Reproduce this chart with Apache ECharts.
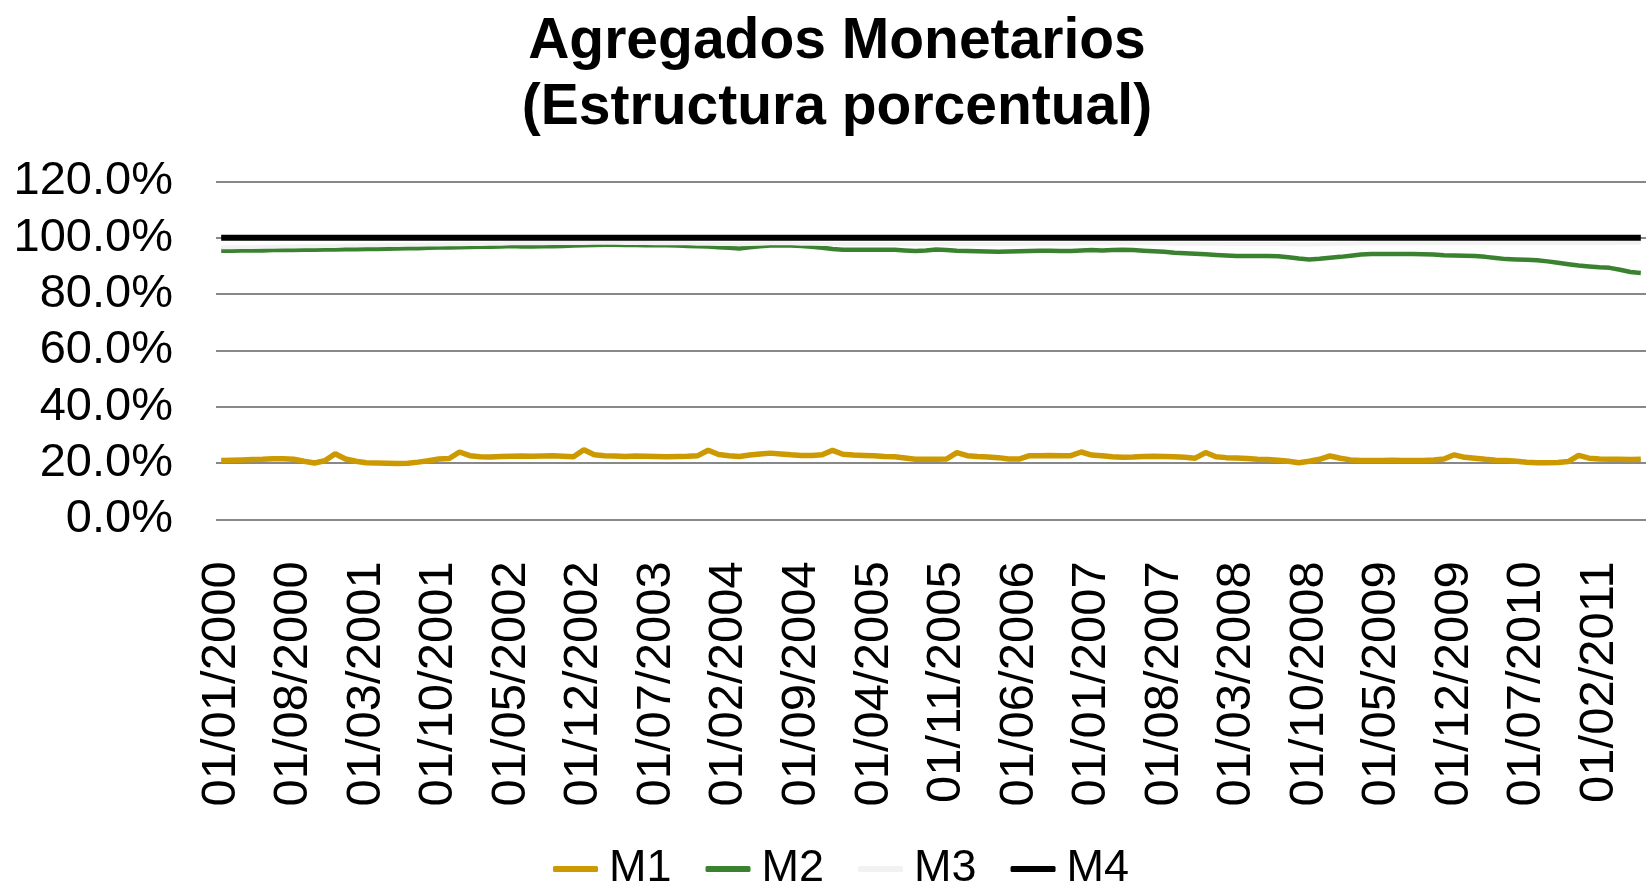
<!DOCTYPE html>
<html>
<head>
<meta charset="utf-8">
<title>Agregados Monetarios</title>
<script src="https://cdn.jsdelivr.net/npm/echarts@6/dist/echarts.min.js"></script>
<style>
  html, body { margin: 0; padding: 0; background: #fff; }
  #chart { width: 1646px; height: 885px; }
</style>
</head>
<body>
<div id="chart"></div>
<script>
// monthly, starting 01/01/2000
const startYear = 2000;
const monthCount = 138;

// percentages, one row per year
const m1 = [
  20.9, 21.0, 21.1, 21.2, 21.3, 21.5, 21.5, 21.3, 20.6, 20.0, 20.8, 23.3,
  21.4, 20.6, 20.1, 20.0, 19.9, 19.8, 19.9, 20.3, 20.8, 21.4, 21.6, 23.9,
  22.6, 22.2, 22.1, 22.3, 22.4, 22.5, 22.4, 22.5, 22.6, 22.4, 22.2, 24.7,
  22.9, 22.6, 22.5, 22.3, 22.5, 22.4, 22.3, 22.2, 22.3, 22.4, 22.6, 24.5,
  23.0, 22.6, 22.3, 22.8, 23.2, 23.5, 23.2, 22.9, 22.7, 22.7, 22.9, 24.5,
  23.1, 22.8, 22.7, 22.6, 22.3, 22.2, 21.8, 21.3, 21.3, 21.3, 21.4, 23.7,
  22.6, 22.3, 22.1, 21.9, 21.4, 21.4, 22.6, 22.6, 22.7, 22.6, 22.6, 23.9,
  22.8, 22.6, 22.2, 22.0, 22.1, 22.3, 22.4, 22.3, 22.2, 22.0, 21.7, 23.7,
  22.2, 21.9, 21.8, 21.6, 21.3, 21.2, 21.0, 20.6, 20.1, 20.6, 21.3, 22.5,
  21.7, 21.1, 20.9, 20.9, 20.9, 21.0, 20.9, 20.9, 20.9, 21.1, 21.4, 22.9,
  22.0, 21.7, 21.3, 21.0, 20.9, 20.6, 20.3, 20.1, 20.1, 20.2, 20.5, 22.7,
  21.7, 21.4, 21.3, 21.3, 21.2, 21.3
];

const m2 = [
  95.4, 95.4, 95.5, 95.5, 95.5, 95.6, 95.6, 95.6, 95.7, 95.7, 95.8, 95.8,
  95.9, 95.9, 96.0, 96.0, 96.1, 96.2, 96.3, 96.3, 96.4, 96.5, 96.5, 96.6,
  96.7, 96.8, 96.8, 96.9, 97.1, 96.9, 96.9, 97.0, 97.0, 97.1, 97.2, 97.3,
  97.4, 97.5, 97.5, 97.4, 97.4, 97.3, 97.3, 97.3, 97.2, 97.1, 97.0, 96.9,
  96.6, 96.4, 96.2, 96.6, 97.0, 97.2, 97.2, 97.2, 97.1, 96.8, 96.4, 96.0,
  95.7, 95.7, 95.7, 95.7, 95.7, 95.7, 95.5, 95.3, 95.5, 95.8, 95.6, 95.4,
  95.3, 95.2, 95.1, 95.0, 95.1, 95.2, 95.3, 95.4, 95.4, 95.3, 95.3, 95.5,
  95.6, 95.5, 95.6, 95.7, 95.6, 95.4, 95.2, 95.0, 94.7, 94.5, 94.3, 94.1,
  93.9, 93.7, 93.5, 93.5, 93.5, 93.5, 93.4, 93.1, 92.6, 92.3, 92.5, 92.9,
  93.2, 93.6, 94.0, 94.2, 94.2, 94.2, 94.2, 94.2, 94.1, 94.0, 93.8, 93.7,
  93.6, 93.5, 93.2, 92.8, 92.4, 92.3, 92.2, 92.0, 91.6, 91.1, 90.6, 90.1,
  89.8, 89.5, 89.3, 88.6, 87.8, 87.5
];

const m3 = [
  96.6, 96.6, 96.7, 96.7, 96.8, 96.8, 96.9, 96.9, 97.0, 97.0, 97.1, 97.1,
  97.2, 97.2, 97.3, 97.3, 97.4, 97.4, 97.5, 97.5, 97.6, 97.6, 97.7, 97.7,
  97.8, 97.8, 97.9, 97.9, 98.0, 98.0, 98.0, 98.0, 98.1, 98.1, 98.1, 98.1,
  98.2, 98.2, 98.2, 98.1, 98.1, 98.1, 98.0, 98.0, 98.0, 98.0, 97.9, 97.9,
  97.8, 97.8, 97.7, 97.8, 97.9, 98.0, 98.0, 98.0, 97.9, 97.9, 97.8, 97.8,
  97.8, 97.8, 97.8, 97.8, 97.8, 97.8, 97.7, 97.7, 97.7, 97.8, 97.8, 97.8,
  97.8, 97.8, 97.8, 97.8, 97.8, 97.8, 97.9, 97.9, 97.9, 97.9, 97.9, 98.0,
  98.0, 98.0, 98.0, 98.0, 98.0, 98.0, 98.0, 98.0, 97.9, 97.9, 97.9, 97.9,
  97.9, 97.8, 97.8, 97.8, 97.8, 97.8, 97.8, 97.7, 97.6, 97.6, 97.7, 97.8,
  97.9, 97.9, 98.0, 98.0, 98.0, 98.0, 98.0, 98.0, 98.0, 98.0, 98.0, 98.0,
  98.0, 98.0, 98.0, 98.0, 98.0, 98.0, 98.1, 98.1, 98.1, 98.1, 98.1, 98.1,
  98.1, 98.1, 98.1, 98.2, 98.2, 98.2
];

const m4 = [
  100, 100, 100, 100, 100, 100, 100, 100, 100, 100, 100, 100,
  100, 100, 100, 100, 100, 100, 100, 100, 100, 100, 100, 100,
  100, 100, 100, 100, 100, 100, 100, 100, 100, 100, 100, 100,
  100, 100, 100, 100, 100, 100, 100, 100, 100, 100, 100, 100,
  100, 100, 100, 100, 100, 100, 100, 100, 100, 100, 100, 100,
  100, 100, 100, 100, 100, 100, 100, 100, 100, 100, 100, 100,
  100, 100, 100, 100, 100, 100, 100, 100, 100, 100, 100, 100,
  100, 100, 100, 100, 100, 100, 100, 100, 100, 100, 100, 100,
  100, 100, 100, 100, 100, 100, 100, 100, 100, 100, 100, 100,
  100, 100, 100, 100, 100, 100, 100, 100, 100, 100, 100, 100,
  100, 100, 100, 100, 100, 100, 100, 100, 100, 100, 100, 100,
  100, 100, 100, 100, 100, 100
];

const seriesNames = ['M1', 'M2', 'M3', 'M4'];
const yTicks = [0, 20, 40, 60, 80, 100, 120];

// date labels like 01/08/2000
const months = [];
for (let i = 0; i < monthCount; i++) {
  const mm = (i % 12) + 1;
  const yy = startYear + Math.floor(i / 12);
  months.push('01/' + (mm < 10 ? '0' + mm : mm) + '/' + yy);
}

const font = '"Liberation Sans", Arial, sans-serif';
const chart = echarts.init(document.getElementById('chart'));

chart.setOption({
  backgroundColor: '#fff',
  animation: false,
  title: {
    text: 'Agregados Monetarios\n(Estructura porcentual)',
    left: 832,
    top: 4,
    textAlign: 'center',
    textStyle: {
      fontFamily: font,
      fontSize: 57,
      fontWeight: 'bold',
      color: '#000',
      lineHeight: 66
    }
  },
  legend: {
    data: seriesNames,
    left: 548,
    top: 839,
    icon: 'roundRect',
    itemWidth: 45,
    itemHeight: 6,
    itemGap: 34,
    textStyle: {
      fontFamily: font,
      fontSize: 45,
      color: '#000',
      lineHeight: 50,
      padding: [0, 0, 0, 6]
    }
  },
  grid: {
    left: 216,
    right: 0,
    top: 181.4,
    height: 337.9,
    containLabel: false
  },
  xAxis: {
    type: 'category',
    data: months,
    boundaryGap: true,
    axisLine: { show: false },
    axisTick: { show: false },
    axisLabel: {
      interval: 6,
      rotate: 90,
      margin: 42,
      fontFamily: font,
      fontSize: 49,
      color: '#000'
    }
  },
  yAxis: {
    type: 'value',
    min: yTicks[0],
    max: yTicks[yTicks.length - 1],
    interval: 20,
    axisLine: { show: false },
    axisTick: { show: false },
    axisLabel: {
      margin: 43,
      fontFamily: font,
      fontSize: 47,
      color: '#000',
      formatter: function (v) { return v.toFixed(1) + '%'; }
    },
    splitLine: { lineStyle: { color: '#888888', width: 2 } }
  },
  series: [
    { name: 'M1', type: 'line', data: m1, color: '#cc9a00', symbol: 'none',
      lineStyle: { width: 5.5, color: '#cc9a00' } },
    { name: 'M2', type: 'line', data: m2, color: '#3b8230', symbol: 'none',
      lineStyle: { width: 4.5, color: '#3b8230' } },
    { name: 'M3', type: 'line', data: m3, color: '#f2f2f2', symbol: 'none',
      lineStyle: { width: 4, color: '#f2f2f2' } },
    { name: 'M4', type: 'line', data: m4, color: '#000000', symbol: 'none',
      lineStyle: { width: 6, color: '#000000' } }
  ]
});
</script>
</body>
</html>
